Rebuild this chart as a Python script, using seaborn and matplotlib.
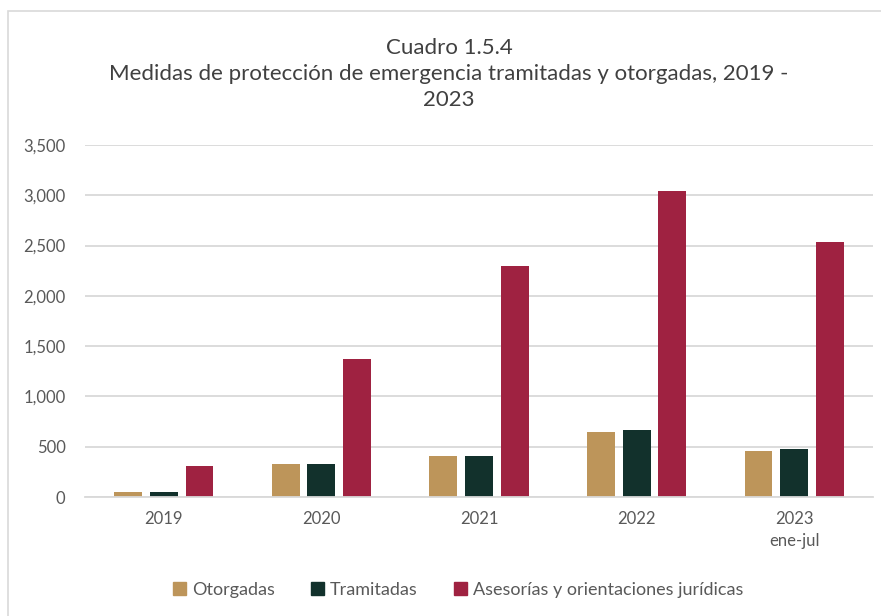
import matplotlib.pyplot as plt
import matplotlib.patches as mpatches
from matplotlib.ticker import FuncFormatter
import pandas as pd
import seaborn as sns

# Data
years = ["2019", "2020", "2021", "2022", "2023\nene-jul"]
otorgadas = [50, 325, 405, 650, 457]
tramitadas = [52, 325, 405, 667, 474]
asesorias = [310, 1370, 2300, 3040, 2537]

series = ["Otorgadas", "Tramitadas", "Asesorías y orientaciones jurídicas"]
colors = ["#BD955A", "#12312C", "#9F2241"]

df = pd.DataFrame({
    "year": years * 3,
    "value": otorgadas + tramitadas + asesorias,
    "serie": [s for s in series for _ in years],
})

sns.set_style("white")
plt.rcParams["font.family"] = ["Lato", "DejaVu Sans"]

fig = plt.figure(figsize=(8.81, 6.16), dpi=100)
ax = fig.add_axes([85 / 881, 119 / 616, 788 / 881, 352 / 616])

sns.barplot(
    data=df, x="year", y="value", hue="serie",
    palette=colors, saturation=1, width=0.68, gap=0.22, ax=ax,
    edgecolor="none", linewidth=0,
)

ax.set_ylim(0, 3500)
ax.set_xlim(-0.5, 4.5)
ax.set_yticks(range(0, 3501, 500))
ax.yaxis.set_major_formatter(FuncFormatter(lambda v, p: f"{int(v):,}"))
ax.grid(axis="y", color="#D9D9D9", linewidth=1.3)
ax.set_axisbelow(True)
for s in ["top", "right", "left"]:
    ax.spines[s].set_visible(False)
ax.spines["bottom"].set_color("#D9D9D9")
ax.spines["bottom"].set_linewidth(1.3)
ax.tick_params(axis="both", length=0, labelsize=12, colors="#595959")
ax.tick_params(axis="y", pad=14)
ax.tick_params(axis="x", pad=10)
for lbl in ax.get_xticklabels():
    lbl.set_linespacing(1.5)
ax.set_xlabel("")
ax.set_ylabel("")

fig.text(449 / 881, 1 - 74 / 616, "Cuadro 1.5.4\nMedidas de protección de emergencia tramitadas y otorgadas, 2019 -\n2023",
         ha="center", va="center", fontsize=16, color="#404040", linespacing=1.38)

ax.get_legend().remove()
handles = [mpatches.Patch(color=c, label=s) for c, s in zip(colors, series)]
fig.legend(handles=handles, loc="center", bbox_to_anchor=(458 / 881, 1 - 590 / 616), ncol=3,
           frameon=False, fontsize=13, labelcolor="#595959", handlelength=0.75,
           handleheight=0.75, handletextpad=0.3, columnspacing=2.0)

fig.patches.append(mpatches.Rectangle((8 / 881, -0.01), 1.0, 1 - 11 / 616 + 0.01,
                                      transform=fig.transFigure, fill=False,
                                      edgecolor="#D9D9D9", linewidth=1.2))

fig.savefig("out.png", dpi=100)
